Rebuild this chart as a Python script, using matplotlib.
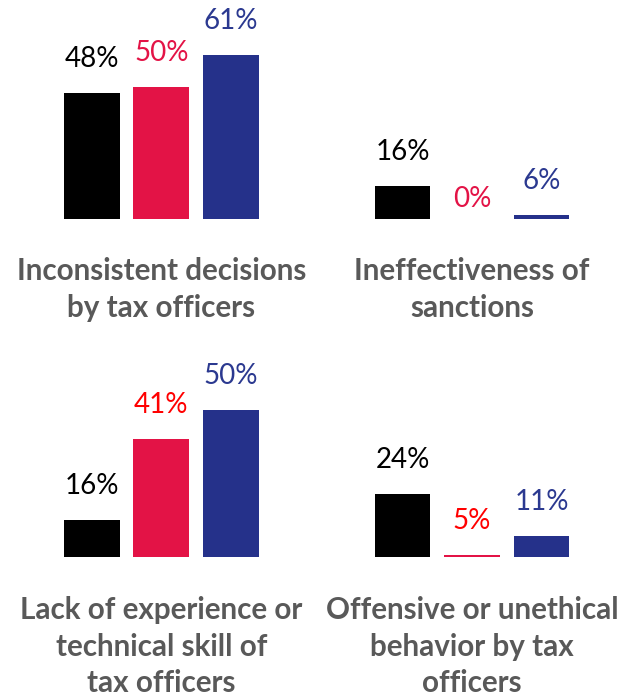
import matplotlib
matplotlib.use("Agg")
import matplotlib.pyplot as plt

# ---- data ----
titles = [
    "Inconsistent decisions\nby tax officers",
    "Ineffectiveness of\nsanctions",
    "Lack of experience or\ntechnical skill of\ntax officers",
    "Offensive or unethical\nbehavior by tax\nofficers",
]
series_black = [48, 16, 16, 24]
series_crimson = [50, 0, 41, 5]
series_navy = [61, 6, 50, 11]
label_colors_crimson = ["#E31346", "#E31346", "#FF0000", "#FF0000"]

bar_colors = ["#000000", "#E31346", "#25318A"]
label_colors_black = "#000000"
label_color_navy = "#2B3990"

W, H = 621, 697
fig = plt.figure(figsize=(W / 100, H / 100), dpi=100)
plt.rcParams['font.family'] = ['Lato', 'DejaVu Sans']

centers_x = [161.25, 472, 161.25, 472]
baselines = [219, 219, 556.8, 556.8]
scales = [2.9, 2.9, 3.22, 3.22]  # px per percent
ymin = 4.5
axes_h = [215, 215, 200, 200]
bar_step = 69.5

title_top_y = [257, 257, 596, 596]

for i in range(4):
    left = centers_x[i] - 1.5 * bar_step
    width = 3 * bar_step
    bottom_px = baselines[i]
    ax = fig.add_axes([left / W, (H - bottom_px) / H, width / W, axes_h[i] / H])
    ymax = ymin + axes_h[i] / scales[i]
    ax.set_xlim(-0.5, 2.5)
    ax.set_ylim(ymin, ymax)
    vals = [series_black[i], series_crimson[i], series_navy[i]]
    lcols = [label_colors_black, label_colors_crimson[i], label_color_navy]
    ax.bar(range(3), vals, width=0.8, color=bar_colors, bottom=0)
    for j, v in enumerate(vals):
        if v > ymin:
            ax.annotate(f"{v}%", (j, v), xytext=(0, 26 * 0.72), textcoords="offset points",
                        ha="center", va="baseline", fontsize=20, color=lcols[j],
                        annotation_clip=False)
        else:
            ax.annotate(f"{v}%", (j, ymin), xytext=(0, 12 * 0.72), textcoords="offset points",
                        ha="center", va="baseline", fontsize=20, color=lcols[j],
                        annotation_clip=False)
    ax.axis("off")
    fig.text(centers_x[i] / W, (H - title_top_y[i]) / H, titles[i],
             ha="center", va="top", fontsize=21.3, fontweight="bold", color="#595959",
             linespacing=1.38)

fig.savefig("out.png", dpi=100)
